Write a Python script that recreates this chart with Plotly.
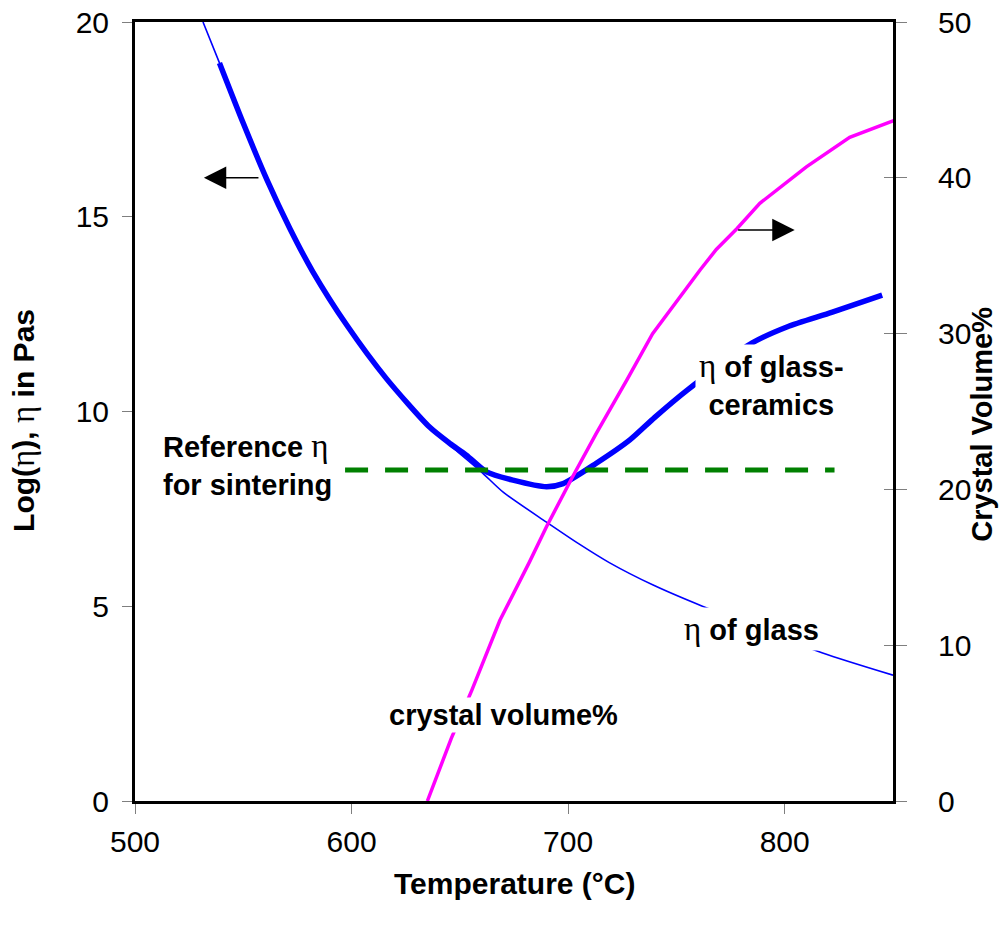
import plotly.graph_objects as go

# ---------------- data ----------------
glass_T = [531.4, 539, 550, 561, 571.5, 582, 598, 616, 636, 647, 660.5, 670, 690, 705, 719, 739, 762, 790, 817.5, 850]
glass_eta = [20.0, 18.95, 17.4, 15.94, 14.7, 13.6, 12.2, 10.85, 9.6, 9.06, 8.42, 7.93, 7.16, 6.6, 6.12, 5.55, 5.0, 4.4, 3.8, 3.23]

gc_T = [539, 550, 561, 571.5, 582, 598, 616, 636, 645.4, 653, 662.3, 674.5, 690, 697.7, 713, 728.5, 740, 755, 785, 801, 822, 845]
gc_eta = [18.95, 17.4, 15.94, 14.7, 13.6, 12.2, 10.85, 9.6, 9.18, 8.88, 8.45, 8.24, 8.07, 8.15, 8.67, 9.27, 9.85, 10.55, 11.76, 12.17, 12.55, 12.99]

cryst_T = [635, 646, 655.5, 668.5, 682, 690, 702, 713, 727, 739, 761, 768.4, 778, 788.5, 810, 830, 851]
cryst_vol = [0, 4.0, 7.1, 11.6, 15.3, 17.6, 20.8, 23.6, 27.0, 30.0, 34.1, 35.4, 36.75, 38.36, 40.7, 42.6, 43.7]

ref_T = [597, 823]
ref_eta = [8.5, 8.5]

x_ticks = [500, 600, 700, 800]
y_ticks = [0, 5, 10, 15, 20]
y2_ticks = [0, 10, 20, 30, 40, 50]

FONT = "Liberation Sans, Arial, sans-serif"
ETA = "<span style='font-family:Liberation Serif, serif; font-weight:normal; font-size:33px'>η</span>"
GRAY = "#7f7f7f"

fig = go.Figure()
fig.add_trace(go.Scatter(x=glass_T, y=glass_eta, mode="lines",
                         line=dict(color="#0000FF", width=1.6, shape="spline", smoothing=0.7),
                         showlegend=False, yaxis="y"))
fig.add_trace(go.Scatter(x=gc_T, y=gc_eta, mode="lines",
                         line=dict(color="#0000FF", width=5.5, shape="spline", smoothing=0.7),
                         showlegend=False, yaxis="y"))
fig.add_trace(go.Scatter(x=cryst_T, y=cryst_vol, mode="lines",
                         line=dict(color="#FF00FF", width=3.5),
                         showlegend=False, yaxis="y2"))
fig.add_trace(go.Scatter(x=ref_T, y=ref_eta, mode="lines",
                         line=dict(color="#008000", width=5, dash="23px,17px"),
                         showlegend=False, yaxis="y"))
# helper trace so the inside-tick overlay axis is drawn
fig.add_trace(go.Scatter(x=[None], y=[None], mode="lines", showlegend=False,
                         hoverinfo="skip", yaxis="y3"))

tickfont = dict(family=FONT, size=30, color="black")
fig.update_layout(
    width=1000, height=936,
    margin=dict(l=135, r=107, t=22, b=135),
    paper_bgcolor="white", plot_bgcolor="white",
    font=dict(family=FONT, color="black"),
    xaxis=dict(range=[500, 850], tickvals=x_ticks, showgrid=False, zeroline=False,
               showline=True, linecolor="black", linewidth=3, mirror=True,
               ticks="outside", ticklen=10, tickwidth=1, tickcolor=GRAY,
               tickfont=tickfont, ticklabelstandoff=2, automargin=False),
    yaxis=dict(range=[0, 20], tickvals=y_ticks, showgrid=False, zeroline=False,
               showline=True, linecolor="black", linewidth=3,
               ticks="outside", ticklen=10, tickwidth=1, tickcolor=GRAY,
               tickfont=tickfont, ticklabelstandoff=7, automargin=False),
    yaxis2=dict(range=[0, 50], tickvals=y2_ticks, showgrid=False, zeroline=False,
                overlaying="y", side="right", anchor="x",
                showline=True, linecolor="black", linewidth=3,
                ticks="outside", ticklen=11, tickwidth=1, tickcolor=GRAY,
                tickfont=tickfont, ticklabelstandoff=25, automargin=False),
    yaxis3=dict(range=[0, 50], tickvals=y2_ticks, showgrid=False, zeroline=False,
                overlaying="y", side="right", anchor="x", showline=False,
                ticks="inside", ticklen=9, tickwidth=1, tickcolor=GRAY,
                showticklabels=False, automargin=False),
)

bold = dict(family=FONT, size=29, color="black", weight="bold")
title_font = dict(family=FONT, size=30, color="black", weight="bold")
annotations = [
    # axis titles
    dict(text="Temperature (°C)", xref="paper", yref="paper", x=0.5, y=-0.1065,
         xanchor="center", yanchor="middle", showarrow=False, font=title_font),
    dict(text="Log(" + ETA + "), " + ETA + " in Pas", xref="paper", yref="paper",
         x=-0.148, y=0.489, xanchor="center", yanchor="middle", textangle=-90,
         showarrow=False, font=title_font),
    dict(text="Crystal Volume%", xref="paper", yref="paper", x=1.1175, y=0.483,
         xanchor="center", yanchor="middle", textangle=-90, showarrow=False,
         font=dict(family=FONT, size=29, color="black", weight="bold")),
    # in-plot labels
    dict(text="Reference " + ETA + "<br>for sintering", x=512, y=8.65, xref="x", yref="y",
         xanchor="left", yanchor="middle", align="left", showarrow=False, font=bold),
    dict(text=ETA + " of glass-<br>ceramics", x=794, y=10.7, xref="x", yref="y",
         xanchor="center", yanchor="middle", align="center", showarrow=False,
         font=bold, bgcolor="white", borderpad=3),
    dict(text=ETA + " of glass", x=784.8, y=4.42, xref="x", yref="y",
         xanchor="center", yanchor="middle", showarrow=False,
         font=bold, bgcolor="white", borderpad=3),
    dict(text="crystal volume%", x=670, y=2.21, xref="x", yref="y",
         xanchor="center", yanchor="middle", showarrow=False,
         font=bold, bgcolor="white", borderpad=1),
    # arrows
    dict(text="", x=531.8, y=16.0, ax=557.7, ay=16.0, xref="x", yref="y",
         axref="x", ayref="y", showarrow=True, arrowhead=2, arrowsize=2.8,
         arrowwidth=1.6, arrowcolor="black", standoff=0),
    dict(text="", x=804.6, y=36.65, ax=777.8, ay=36.65, xref="x", yref="y2",
         axref="x", ayref="y2", showarrow=True, arrowhead=2, arrowsize=2.8,
         arrowwidth=1.6, arrowcolor="black", standoff=0),
]
fig.update_layout(annotations=annotations)

fig.write_html("out.html")
